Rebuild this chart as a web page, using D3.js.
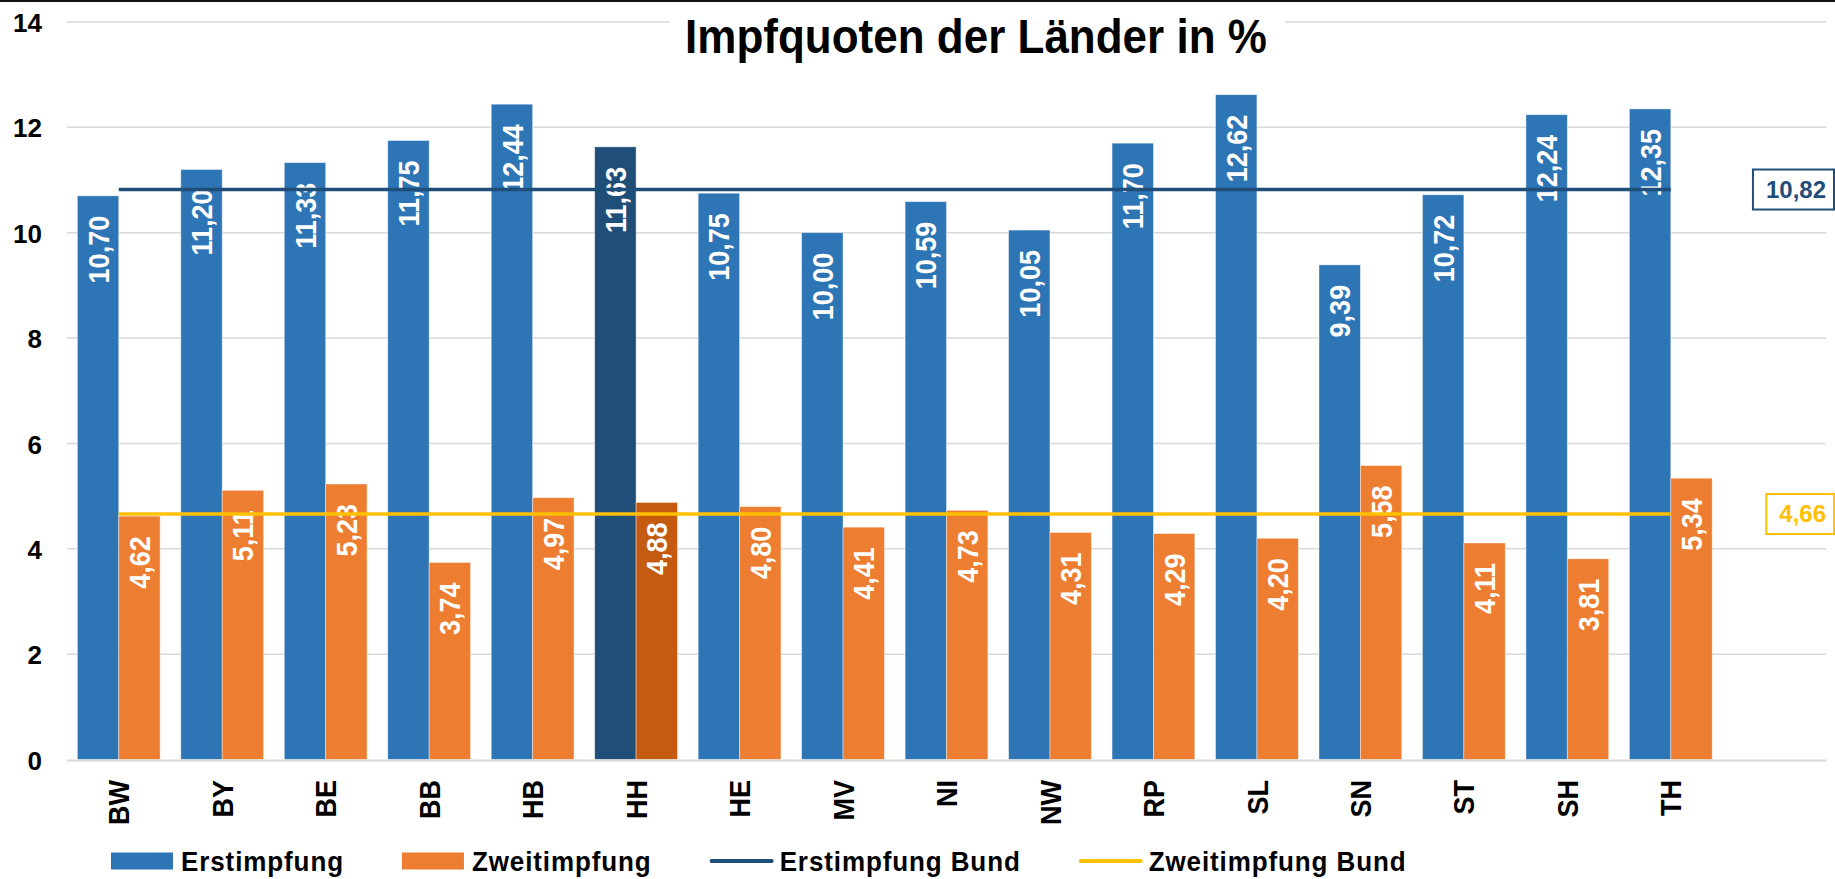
<!DOCTYPE html>
<html lang="de">
	<head>
		<meta charset="utf-8">
		<title>Impfquoten der Länder in %</title>
		<script src="https://d3js.org/d3.v7.min.js"></script>
		<style type="text/css">
			body { margin: 0; background: #fff; }
			svg text { font-family: "Liberation Sans", Arial, sans-serif; font-weight: bold; }
			.grid line { stroke: #d9d9d9; stroke-width: 1.5; }
		</style>
	</head>
	<body>
		<script type="text/javascript">

			var laender      = ["BW", "BY", "BE", "BB", "HB", "HH", "HE", "MV", "NI", "NW", "RP", "SL", "SN", "ST", "SH", "TH"];
			var erstimpfung  = [10.70, 11.20, 11.33, 11.75, 12.44, 11.63, 10.75, 10.00, 10.59, 10.05, 11.70, 12.62, 9.39, 10.72, 12.24, 12.35];
			var zweitimpfung = [4.62, 5.11, 5.23, 3.74, 4.97, 4.88, 4.80, 4.41, 4.73, 4.31, 4.29, 4.20, 5.58, 4.11, 3.81, 5.34];
			var bundErst     = 10.82;
			var bundZweit    = 4.66;
			var yTicks       = [0, 2, 4, 6, 8, 10, 12, 14];
			var highlight    = "HH";

			var W = 1835, H = 879,
				left = 67, right = 1826,
				fmt = function(v){ return v.toFixed(2).replace(".", ","); };

			var svg = d3.select("body").append("svg")
				.attr("width", W)
				.attr("height", H);

			// 16 Länder + one empty slot on the right for the Bund labels
			var xScale = d3.scaleBand()
				.domain(laender)
				.range([left, left + (right - left) * laender.length / (laender.length + 1)]);

			var barW = xScale.bandwidth() / 2.5;
			var xSub = d3.scaleBand()
				.domain(["erst", "zweit"])
				.range([barW * 0.25, barW * 2.25]);

			var yScale = d3.scaleLinear()
				.domain([0, 14])
				.range([759.5, 22]);

			// gridlines
			svg.append("g").attr("class", "grid")
				.selectAll("line")
				.data(yTicks.slice(1))
				.enter().append("line")
				.attr("x1", left).attr("x2", right)
				.attr("y1", function(d){ return yScale(d); })
				.attr("y2", function(d){ return yScale(d); });

			// y tick labels
			svg.append("g").selectAll("text")
				.data(yTicks)
				.enter().append("text")
				.attr("x", 42)
				.attr("y", function(d){ return yScale(d) + 1; })
				.attr("dy", "0.35em")
				.attr("text-anchor", "end")
				.attr("font-size", "26px")
				.attr("fill", "#000")
				.text(function(d){ return d; });

			// top frame line
			svg.append("rect").attr("x", 0).attr("y", 0).attr("width", W).attr("height", 2).attr("fill", "#111");

			var rows = laender.map(function(l, i){
				return { land: l, erst: erstimpfung[i], zweit: zweitimpfung[i] };
			});

			var groups = svg.append("g").selectAll("g")
				.data(rows)
				.enter().append("g")
				.attr("transform", function(d){ return "translate(" + xScale(d.land) + ",0)"; });

			var colors = {
				erst:  function(d){ return d.land === highlight ? "#1f4e79" : "#2e75b6"; },
				zweit: function(d){ return d.land === highlight ? "#c55a11" : "#ed7d31"; }
			};

			["erst", "zweit"].forEach(function(key){
				groups.append("rect")
					.attr("x", xSub(key))
					.attr("width", xSub.bandwidth())
					.attr("y", function(d){ return yScale(d[key]); })
					.attr("height", function(d){ return yScale(0) - yScale(d[key]); })
					.attr("fill", colors[key])
					.attr("stroke", "rgba(255,255,255,0.5)")
					.attr("stroke-width", 0.8);
			});

			// x axis line
			svg.append("line")
				.attr("x1", left).attr("x2", right)
				.attr("y1", yScale(0) + 1).attr("y2", yScale(0) + 1)
				.attr("stroke", "#d9d9d9").attr("stroke-width", 2);

			// category labels
			svg.append("g").selectAll("text")
				.data(laender)
				.enter().append("text")
				.attr("transform", function(d){ return "translate(" + (xScale(d) + xScale.bandwidth() / 2) + ",780) rotate(-90) scale(1,1.12)"; })
				.attr("dy", "0.35em")
				.attr("text-anchor", "end")
				.attr("font-size", "27px")
				.attr("fill", "#000")
				.text(function(d){ return d; });

			// Bund lines
			var x0 = xScale(laender[0]) + xScale.bandwidth() / 2,
				x1 = xScale(laender[laender.length - 1]) + xScale.bandwidth() / 2;
			var bund = [
				{ v: bundErst,  color: "#1f4e79" },
				{ v: bundZweit, color: "#ffc000" }
			];
			svg.append("g").selectAll("line")
				.data(bund)
				.enter().append("line")
				.attr("x1", x0).attr("x2", x1)
				.attr("y1", function(d){ return yScale(d.v); })
				.attr("y2", function(d){ return yScale(d.v); })
				.attr("stroke", function(d){ return d.color; })
				.attr("stroke-width", 3.5);

			// Bund value boxes
			bund.forEach(function(d){
				var g = svg.append("g");
				var t = g.append("text")
					.attr("x", 1826)
					.attr("y", yScale(d.v))
					.attr("dy", "0.35em")
					.attr("text-anchor", "end")
					.attr("font-size", "24px")
					.attr("fill", d.color)
					.text(fmt(d.v));
				var bb = t.node().getBBox();
				g.insert("rect", "text")
					.attr("x", bb.x - 13)
					.attr("y", yScale(d.v) - 20)
					.attr("width", 1834 - (bb.x - 13))
					.attr("height", 40)
					.attr("fill", "#fff")
					.attr("stroke", d.color)
					.attr("stroke-width", 2);
			});

			// data labels
			["erst", "zweit"].forEach(function(key){
				groups.append("text")
					.attr("transform", function(d){
						return "translate(" + (xSub(key) + xSub.bandwidth() / 2) + "," + (yScale(d[key]) + 20) + ") rotate(-90) scale(1,1.12)";
					})
					.attr("dy", "0.35em")
					.attr("text-anchor", "end")
					.attr("font-size", "27px")
					.attr("fill", "#fff")
					.text(function(d){ return fmt(d[key]); });
			});

			// title
			var tw = svg.append("g");
			tw.append("rect").attr("x", 670).attr("y", 3).attr("width", 615).attr("height", 62).attr("fill", "#fff");
			tw.append("text")
				.attr("transform", "translate(976,53) scale(1,1.1)")
				.attr("text-anchor", "middle")
				.attr("font-size", "44px")
				.attr("fill", "#000")
				.text("Impfquoten der Länder in %");

			// legend
			var legendItems = [
				{ name: "Erstimpfung",       color: "#2e75b6", type: "rect" },
				{ name: "Zweitimpfung",      color: "#ed7d31", type: "rect" },
				{ name: "Erstimpfung Bund",  color: "#1f4e79", type: "line" },
				{ name: "Zweitimpfung Bund", color: "#ffc000", type: "line" }
			];
			var lx = 111, ly = 861;
			legendItems.forEach(function(d){
				var g = svg.append("g").attr("transform", "translate(" + lx + "," + ly + ")");
				if (d.type === "rect") {
					g.append("rect").attr("x", 0).attr("y", -8.5).attr("width", 62).attr("height", 17).attr("fill", d.color);
				} else {
					g.append("line").attr("x1", 2).attr("x2", 62).attr("y1", 0).attr("y2", 0)
						.attr("stroke", d.color).attr("stroke-width", 4).attr("stroke-linecap", "round");
				}
				var t = g.append("text")
					.attr("transform", "translate(70,10) scale(1,1.08)")
					.attr("font-size", "26px")
					.attr("letter-spacing", "0.9px")
					.attr("fill", "#000")
					.text(d.name);
				lx += 70 + t.node().getComputedTextLength() + 58;
			});

		</script>
	</body>
</html>
